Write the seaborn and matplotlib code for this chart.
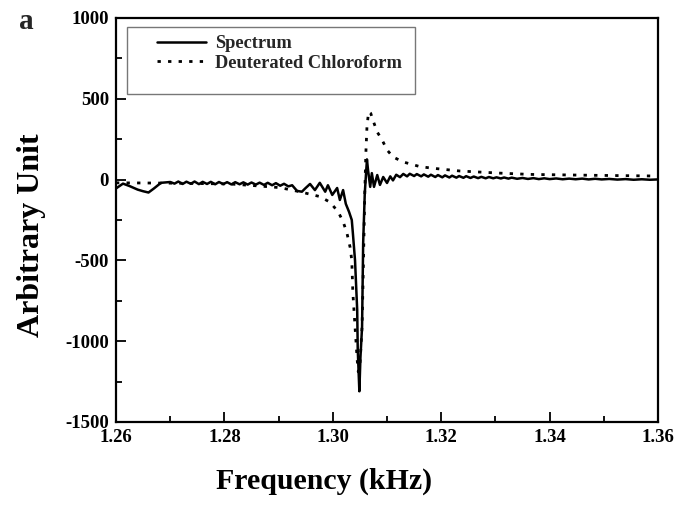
import seaborn as sns
import matplotlib.pyplot as plt
import pandas as pd
from matplotlib.ticker import MultipleLocator
from matplotlib.patches import Rectangle

# spectrum (solid line)
spec_x = [1.2600, 1.2613, 1.2625, 1.2640, 1.2650, 1.2660, 1.2670, 1.2683, 1.2700,
          1.2708, 1.2715, 1.2723, 1.2730, 1.2738, 1.2745, 1.2753, 1.2760, 1.2768,
          1.2775, 1.2783, 1.2790, 1.2798, 1.2805, 1.2813, 1.2820, 1.2828, 1.2835,
          1.2843, 1.2850, 1.2858, 1.2865, 1.2873, 1.2880, 1.2888, 1.2895, 1.2903,
          1.2910, 1.2918, 1.2925, 1.2934, 1.2943, 1.2949, 1.2958, 1.2967, 1.2976,
          1.2986, 1.2991, 1.2999, 1.3008, 1.3013, 1.3019, 1.3024, 1.3030, 1.3035,
          1.3037, 1.3041, 1.3045, 1.3046, 1.3049, 1.3051, 1.3054, 1.3056, 1.3059,
          1.3063, 1.3065, 1.3069, 1.3072, 1.3076, 1.3082, 1.3087, 1.3093, 1.3100,
          1.3106, 1.3111, 1.3117, 1.3124, 1.3130, 1.3137, 1.3142, 1.3150, 1.3155,
          1.3163, 1.3168, 1.3176, 1.3181, 1.3189, 1.3194, 1.3202, 1.3207, 1.3215,
          1.3220, 1.3228, 1.3233, 1.3241, 1.3246, 1.3254, 1.3260, 1.3268, 1.3274,
          1.3282, 1.3288, 1.3296, 1.3302, 1.3310, 1.3316, 1.3324, 1.3330, 1.3340,
          1.3350, 1.3360, 1.3370, 1.3380, 1.3390, 1.3400, 1.3412, 1.3424, 1.3436,
          1.3448, 1.3460, 1.3472, 1.3484, 1.3496, 1.3510, 1.3525, 1.3540, 1.3555,
          1.3570, 1.3585, 1.3600]
spec_y = [-55, -25, -40, -62, -72, -80, -55, -20, -15,
          -25, -12, -27, -13, -26, -12, -28, -14, -27,
          -14, -29, -15, -28, -16, -30, -16, -29, -17,
          -31, -18, -31, -19, -33, -20, -35, -22, -38,
          -26, -42, -35, -70, -75, -55, -27, -65, -20,
          -75, -35, -95, -52, -126, -65, -150, -200, -250,
          -330, -500, -807, -1050, -1310, -1100, -910, -392, -83,
          125, 59, -45, 40, -45, 28, -33, 16, -21,
          20, -5, 30, 15, 35, 20, 36, 22, 34,
          20, 32, 18, 30, 16, 28, 14, 26, 13,
          24, 12, 22, 11, 21, 10, 19, 9, 17,
          8, 16, 8, 14, 7, 13, 6, 12, 5,
          10, 4, 9, 3, 8, 3, 7, 2, 6,
          2, 6, 1, 5, 1, 4, 0, 3, -1,
          2, -1, 1]

# deuterated chloroform reference (dotted line)
ref_x = [1.2600, 1.2700, 1.2810, 1.2866, 1.2903, 1.2939, 1.2976, 1.2995, 1.3010,
         1.3019, 1.3026, 1.3032, 1.3035, 1.3037, 1.3041, 1.3045, 1.3047, 1.3050,
         1.3054, 1.3056, 1.3059, 1.3061, 1.3063, 1.3066, 1.3070, 1.3074, 1.3082,
         1.3091, 1.3100, 1.3111, 1.3130, 1.3161, 1.3185, 1.3235, 1.3308, 1.3364,
         1.3493, 1.3600]
ref_y = [-20, -22, -27, -40, -50, -75, -105, -140, -200,
         -260, -330, -420, -500, -700, -910, -1115, -1190, -1150,
         -910, -600, -83, 164, 325, 420, 410, 368, 294,
         245, 184, 140, 109, 80, 70, 53, 40, 32,
         26, 22]

spec = pd.DataFrame({'freq': spec_x, 'amp': spec_y})
ref = pd.DataFrame({'freq': ref_x, 'amp': ref_y})

sns.set_style('ticks')
plt.rcParams['font.family'] = ['Liberation Serif', 'DejaVu Serif']
plt.rcParams['font.weight'] = 'bold'
plt.rcParams['axes.unicode_minus'] = False

fig = plt.figure(figsize=(6.77, 5.08), dpi=100)
ax = fig.add_axes([0.1713, 0.1693, 0.8007, 0.7953])

sns.lineplot(data=spec, x='freq', y='amp', ax=ax, color='black', lw=1.8,
             label='Spectrum', sort=False)
sns.lineplot(data=ref, x='freq', y='amp', ax=ax, color='black', lw=2.0,
             linestyle=(0, (1.2, 2.6)), label='Deuterated Chloroform', sort=False)

ax.set_xlim(1.26, 1.36)
ax.set_ylim(-1500, 1000)
ax.xaxis.set_minor_locator(MultipleLocator(0.01))
ax.yaxis.set_major_locator(MultipleLocator(500))
ax.yaxis.set_minor_locator(MultipleLocator(250))
ax.set_xticks([1.26, 1.28, 1.30, 1.32, 1.34, 1.36])
ax.set_xticklabels(['1.26', '1.28', '1.30', '1.32', '1.34', '1.36'])
ax.tick_params(which='both', direction='in', top=False, right=False,
               labelsize=13.5, width=1.3, color='black', labelcolor='black')
ax.tick_params(which='major', length=7, pad=5)
ax.tick_params(which='minor', length=4)
for lab in ax.get_xticklabels() + ax.get_yticklabels():
    lab.set_fontweight('bold')
for s in ax.spines.values():
    s.set_linewidth(1.6)
    s.set_color('black')
    s.set_visible(True)

ax.set_xlabel('Frequency (kHz)', fontsize=21.5, fontweight='bold', color='black')
ax.set_ylabel('Arbitrary Unit', fontsize=23, fontweight='bold', color='black')
ax.xaxis.set_label_coords(0.384, -0.112)
ax.yaxis.set_label_coords(-0.13, 0.463)

# legend frame drawn as a box, entries placed inside it
ax.add_patch(Rectangle((0.0203, 0.8119), 0.5314, 0.1658, transform=ax.transAxes,
                       fill=True, facecolor='white', edgecolor='#777777',
                       lw=1.0, zorder=4))
leg = ax.legend(loc='upper left', bbox_to_anchor=(0.0756, 0.957), frameon=False,
                fontsize=13.2, handlelength=2.7, handletextpad=0.45,
                borderpad=0, borderaxespad=0, labelspacing=0.12)
leg.set_zorder(5)
for t in leg.get_texts():
    t.set_fontweight('bold')

fig.text(0.028, 0.943, 'a', fontsize=21, fontweight='bold')

fig.savefig('out.png', dpi=100)
